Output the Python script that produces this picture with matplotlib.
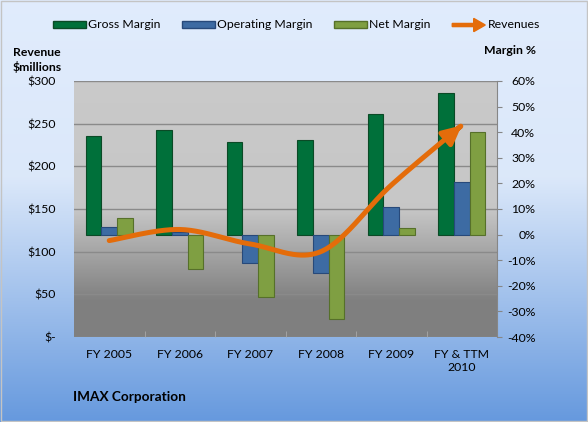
import numpy as np
import matplotlib.pyplot as plt
from matplotlib.patches import Patch, FancyArrow, FancyArrowPatch, Rectangle
from matplotlib.path import Path
from matplotlib.legend_handler import HandlerPatch

# data
years = ['FY 2005', 'FY 2006', 'FY 2007', 'FY 2008', 'FY 2009', 'FY & TTM\n2010']
gross = [38.5, 41.0, 36.3, 37.1, 47.0, 55.2]
operating = [3.0, 1.0, -11.0, -15.1, 10.7, 20.4]
net = [6.6, -13.4, -24.2, -33.1, 2.7, 40.2]
revenue = [113, 126, 109, 100, 178, 248]

rev_ticks = list(range(0, 301, 50))
pct_ticks = list(range(-40, 61, 10))

c_gross, e_gross = '#00703a', '#0b4a26'
c_oper, e_oper = '#3d6ba3', '#27497a'
c_net, e_net = '#7f9f42', '#56702a'
c_rev = '#e46c0a'

plt.rcParams['font.family'] = ['Lato', 'DejaVu Sans']
plt.rcParams['font.size'] = 8.8

fig = plt.figure(figsize=(5.88, 4.22), dpi=100)

# figure background gradient (top -> bottom)
bg = fig.add_axes([0, 0, 1, 1], zorder=-10)
bg.axis('off')
t = np.linspace(0, 1, 300)
stops = [0, 0.42, 1]
cols = np.array([[0.88, 0.925, 0.99], [0.86, 0.91, 0.98], [0.40, 0.60, 0.87]])
img = np.stack([np.interp(t, stops, cols[:, i]) for i in range(3)], axis=1)[:, None, :]
bg.imshow(img, aspect='auto', extent=[0, 1, 0, 1])
bg.set_xlim(0, 1)
bg.set_ylim(0, 1)

ax = fig.add_axes([74/588, 1-337/422, 423/588, 256/422])
ax.set_xlim(-0.5, 5.5)
ax.set_ylim(-40, 60)

# plot area gradient
stops2 = [0, 0.5, 0.86, 1]
g = np.interp(t, stops2, [0.79, 0.78, 0.50, 0.50])
img2 = np.stack([g, g, g], axis=1)[:, None, :]
ax.imshow(img2, aspect='auto', extent=[-0.5, 5.5, -40, 60], zorder=0)

# gridlines follow the revenue axis
for r in rev_ticks:
    ax.axhline(r/3 - 40, color='#8a8a8a', lw=1, zorder=1)

x = np.arange(len(years))
w = 0.22
ax.bar(x - w, gross, w, color=c_gross, edgecolor=e_gross, lw=0.8, zorder=3)
ax.bar(x, operating, w, color=c_oper, edgecolor=e_oper, lw=0.8, zorder=3)
ax.bar(x + w, net, w, color=c_net, edgecolor=e_net, lw=0.8, zorder=3)

ax.set_xticks(x, years)
ax.tick_params(axis='x', length=0, pad=9)
ax.set_xticks(np.arange(0.5, 5, 1), minor=True)
ax.tick_params(axis='x', which='minor', direction='in', length=4, color='#a8a8a8')
for s in ['left', 'top', 'bottom']:
    ax.spines[s].set_visible(False)
ax.spines['right'].set_color('#868686')

ax2 = ax.twinx()
ax2.set_ylim(0, 300)
ax2.yaxis.tick_left()
ax2.set_yticks(rev_ticks, ['$-' if r == 0 else f'${r}' for r in rev_ticks])
ax2.tick_params(axis='y', length=0, pad=13)
for s in ax2.spines.values():
    s.set_visible(False)

# margin axis on the right (twinx moved it left)
ax.yaxis.tick_right()
ax.set_yticks(pct_ticks, [f'{v}%' for v in pct_ticks])
ax.tick_params(axis='y', direction='out', length=3.6, pad=24, color='#868686', labelcolor='black')
for lbl in ax.get_yticklabels():
    lbl.set_horizontalalignment('right')


def smooth(xs, ys, n=40):
    pts = np.column_stack([xs, ys]).astype(float)
    P = np.vstack([pts[0], pts, pts[-1]])
    out = []
    for i in range(1, len(P) - 2):
        p0, p1, p2, p3 = P[i-1], P[i], P[i+1], P[i+2]
        c1 = p1 + (p2 - p0) / 6
        c2 = p2 - (p3 - p1) / 6
        tt = np.linspace(0, 1, n)[:, None]
        seg = (1-tt)**3*p1 + 3*(1-tt)**2*tt*c1 + 3*(1-tt)*tt**2*c2 + tt**3*p2
        out.append(seg if i == 1 else seg[1:])
    return np.vstack(out)


curve = smooth(x, revenue)
arrow = FancyArrowPatch(path=Path(curve), arrowstyle='-|>,head_length=0.55,head_width=0.27',
                        mutation_scale=20, color=c_rev, lw=3.6, transform=ax2.transData,
                        capstyle='round', zorder=5)
ax2.add_patch(arrow)


def make_arrow(legend, orig_handle, xdescent, ydescent, width, height, fontsize):
    return FancyArrow(0, height/2, width, 0, width=height*0.45, head_width=height*1.9,
                      head_length=width*0.35, length_includes_head=True)


handles = [Patch(fc=c_gross, ec=e_gross), Patch(fc=c_oper, ec=e_oper),
           Patch(fc=c_net, ec=e_net), FancyArrow(0, 0, 1, 0, color=c_rev)]
fig.legend(handles, ['Gross Margin', 'Operating Margin', 'Net Margin', 'Revenues'],
           loc='center', bbox_to_anchor=(0.504, 1-25/422), ncol=4, frameon=False,
           handlelength=2.7, handleheight=0.5, handletextpad=0.2, columnspacing=1.75,
           handler_map={FancyArrow: HandlerPatch(patch_func=make_arrow)})

fig.text(13/588, 1-52/422, 'Revenue', weight='bold', ha='left', va='center')
fig.text(13/588, 1-67/422, '$millions', weight='bold', ha='left', va='center')
fig.text(536/588, 1-50/422, 'Margin %', weight='bold', ha='right', va='center')
fig.text(73/588, 1-397/422, 'IMAX Corporation', weight='bold', ha='left', va='center',
         fontsize=9.8)

fig.patches.append(Rectangle((0.002, 0.002), 0.996, 0.995, transform=fig.transFigure,
                             fill=False, ec='#c4c4c4', lw=1))

fig.savefig('out.png', dpi=100)
